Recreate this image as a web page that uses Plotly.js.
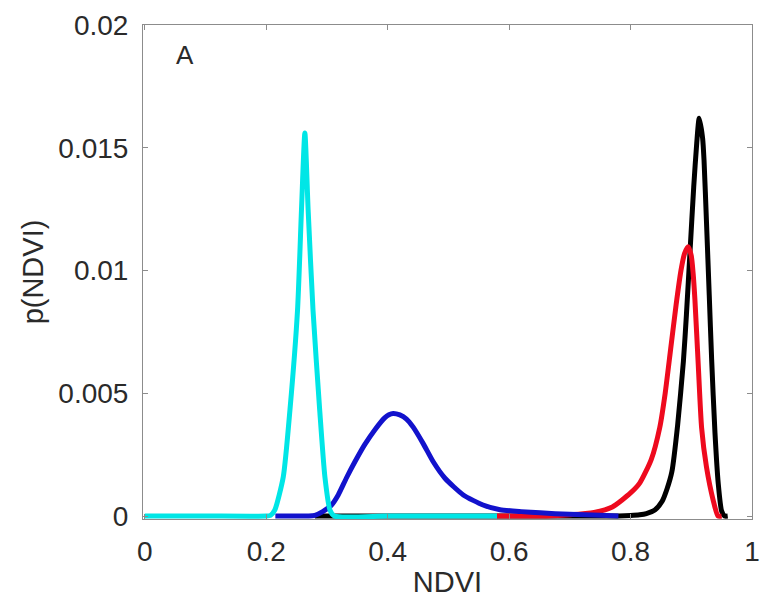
<!DOCTYPE html>
<html>
<head>
<meta charset="utf-8">
<script src="https://cdn.plot.ly/plotly-3.0.1.min.js"></script>
<style>
html,body{margin:0;padding:0;background:#fff;}
#chart{width:761px;height:613px;}
</style>
</head>
<body>
<div id="chart"></div>
<script>
// Curve samples (NDVI vs p(NDVI))
const blackX = [0.28, 0.32, 0.5, 0.7, 0.78, 0.80, 0.815, 0.826, 0.840, 0.852, 0.860, 0.868, 0.8775, 0.887, 0.892, 0.898, 0.904, 0.909, 0.913, 0.9186, 0.921, 0.925, 0.9296, 0.9335, 0.939, 0.9445, 0.950, 0.955, 0.96];
const blackY = [0, 0, 0, 0, 0, 0.00002, 0.00005, 0.0001, 0.00025, 0.0006, 0.0011, 0.0018, 0.0037, 0.0063, 0.0082, 0.0108, 0.0134, 0.0152, 0.0162, 0.0154, 0.0145, 0.0120, 0.0090, 0.0064, 0.0034, 0.0013, 0.0002, 0, 0];

const redX = [0.58, 0.62, 0.66, 0.70, 0.74, 0.770, 0.800, 0.815, 0.834, 0.848, 0.857, 0.866, 0.875, 0.883, 0.889, 0.895, 0.900, 0.903, 0.906, 0.9116, 0.917, 0.925, 0.936, 0.944, 0.95];
const redY = [0, 0, 0, 0.00005, 0.00015, 0.00037, 0.00094, 0.00134, 0.0023, 0.0036, 0.0050, 0.0068, 0.0086, 0.0100, 0.0107, 0.01097, 0.0106, 0.0099, 0.0088, 0.0061, 0.0036, 0.0020, 0.00065, 0, 0];

const blueX = [0.215, 0.25, 0.27, 0.28, 0.293, 0.3075, 0.3185, 0.332, 0.346, 0.3624, 0.379, 0.395, 0.402, 0.409, 0.420, 0.431, 0.442, 0.4585, 0.475, 0.494, 0.5245, 0.557, 0.585, 0.62, 0.651, 0.70, 0.75, 0.78];
const blueY = [0, 0, 0, 0.00003, 0.00018, 0.00045, 0.00086, 0.00155, 0.00221, 0.00292, 0.00352, 0.00400, 0.00413, 0.00418, 0.00412, 0.00395, 0.00362, 0.00295, 0.00221, 0.00155, 0.00086, 0.00045, 0.00026, 0.00018, 0.00013, 0.00007, 0.00003, 0];

const cyanX = [0, 0.1, 0.2, 0.207, 0.214, 0.228, 0.239, 0.2515, 0.258, 0.2636, 0.269, 0.277, 0.288, 0.2966, 0.305, 0.312, 0.4, 0.5, 0.58];
const cyanY = [0, 0, 0, 0.00003, 0.00024, 0.00159, 0.00432, 0.00839, 0.01246, 0.0156, 0.01246, 0.00839, 0.00432, 0.00159, 0.00024, 0, 0, 0, 0];

const xTickVals = [0, 0.2, 0.4, 0.6, 0.8, 1];
const xTickText = ["0", "0.2", "0.4", "0.6", "0.8", "1"];
const yTickVals = [0, 0.005, 0.01, 0.015, 0.02];
const yTickText = ["0", "0.005", "0.01", "0.015", "0.02"];

const FONT = "Liberation Sans, Arial, Helvetica, sans-serif";

function line(x, y, color) {
  return {
    x: x, y: y, type: "scatter", mode: "lines",
    line: {color: color, width: 5, shape: "spline", smoothing: 0.6},
    hoverinfo: "skip", showlegend: false
  };
}

const data = [
  line(blackX, blackY, "#000000"),
  line(redX, redY, "#ee0a1e"),
  line(blueX, blueY, "#1212cc"),
  line(cyanX, cyanY, "#00e6e6")
];

const axisCommon = {
  showgrid: false, zeroline: false,
  showline: true, linecolor: "#8c8c8c", linewidth: 1, mirror: "ticks",
  ticks: "inside", ticklen: 5, tickcolor: "#8c8c8c", tickwidth: 1,
  tickfont: {family: FONT, size: 28, color: "#2a2a2a"}
};

const layout = {
  width: 761, height: 613,
  margin: {l: 143, r: 9, t: 25, b: 94},
  paper_bgcolor: "#ffffff", plot_bgcolor: "#ffffff",
  xaxis: Object.assign({}, axisCommon, {
    range: [-0.003, 1],
    tickvals: xTickVals, ticktext: xTickText,
    ticklabelstandoff: 7,
    title: {text: "NDVI", font: {family: FONT, size: 29, color: "#2a2a2a"}, standoff: 6}
  }),
  yaxis: Object.assign({}, axisCommon, {
    range: [-0.00012, 0.02],
    tickvals: yTickVals, ticktext: yTickText,
    ticklabelstandoff: 8,
    title: {text: "p(NDVI)", font: {family: FONT, size: 29, color: "#2a2a2a"}, standoff: 6}
  }),
  annotations: [{
    text: "A", xref: "paper", yref: "paper", x: 0.069, y: 0.940,
    xanchor: "center", yanchor: "middle",
    showarrow: false, font: {family: FONT, size: 26, color: "#2a2a2a"}
  }]
};

Plotly.newPlot("chart", data, layout, {staticPlot: true, displayModeBar: false});
</script>
</body>
</html>
